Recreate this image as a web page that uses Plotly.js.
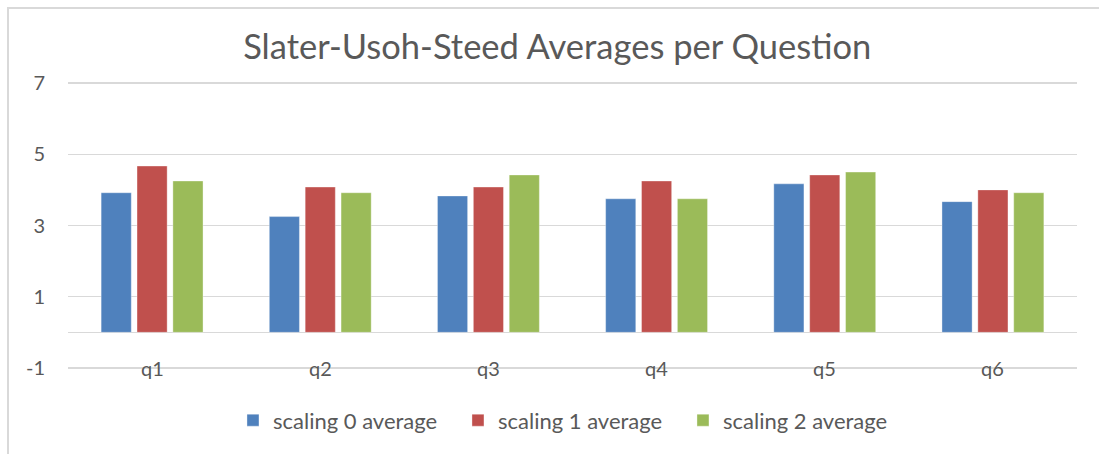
<!DOCTYPE html>
<html>
<head>
<meta charset="utf-8">
<script src="https://cdn.plot.ly/plotly-3.0.1.min.js"></script>
<style>
  html, body { margin: 0; padding: 0; background: #fff; }
  #wrap { position: relative; width: 1099px; height: 454px; overflow: hidden; }
  #frame { position: absolute; left: 7px; top: 7px; width: 1200px; height: 600px;
           border-left: 2px solid #d9d9d9; border-top: 2px solid #d9d9d9; pointer-events: none; }
  #chart { position: absolute; left: 0; top: 0; width: 1099px; height: 454px; }
</style>
</head>
<body>
<div id="wrap">
  <div id="chart"></div>
  <div id="frame"></div>
</div>
<script>
const categories = ["q1", "q2", "q3", "q4", "q5", "q6"];
const seriesNames = ["scaling 0 average", "scaling 1 average", "scaling 2 average"];
const scaling0 = [3.92, 3.25, 3.83, 3.75, 4.17, 3.67];
const scaling1 = [4.67, 4.08, 4.08, 4.25, 4.42, 4.00];
const scaling2 = [4.25, 3.92, 4.42, 3.75, 4.50, 3.92];
const yTicks = [-1, 1, 3, 5, 7];
const colors = ["#4F81BD", "#C0504D", "#9BBB59"];
const textColor = "#595959";
const font = "Lato, 'Open Sans', sans-serif";

const allSeries = [scaling0, scaling1, scaling2];
const traces = allSeries.map((vals, i) => ({
  type: "bar",
  name: seriesNames[i],
  x: categories,
  y: vals,
  marker: { color: colors[i], line: { color: "rgba(255,255,255,0.35)", width: 1 } },
  hoverinfo: "x+y+name"
}));

const annotations = categories.map(c => ({
  x: c, y: -1, xref: "x", yref: "y",
  text: c, showarrow: false,
  xanchor: "center", yanchor: "middle",
  font: { family: font, size: 20, color: textColor }
}));

const layout = {
  width: 1099, height: 454,
  margin: { l: 68, r: 22, t: 82, b: 85 },
  paper_bgcolor: "rgba(0,0,0,0)",
  plot_bgcolor: "#ffffff",
  title: {
    text: "Slater-Usoh-Steed Averages per Question",
    font: { family: font, size: 34.5, color: textColor },
    x: 0.507, xanchor: "center", y: 0.897, yanchor: "middle", yref: "container"
  },
  barmode: "group",
  bargap: 0.36,
  bargroupgap: 0.16,
  xaxis: {
    type: "category",
    range: [-0.5, 5.5],
    showticklabels: false,
    showgrid: false,
    zeroline: false,
    showline: false,
    ticks: ""
  },
  yaxis: {
    range: [-1.03, 7.03],
    tickvals: yTicks,
    ticktext: yTicks.map(String),
    showgrid: true,
    gridcolor: "#d9d9d9",
    gridwidth: 1.3,
    zeroline: true,
    zerolinecolor: "#d9d9d9",
    zerolinewidth: 1.3,
    showline: false,
    ticks: "",
    ticklabelstandoff: 22,
    tickfont: { family: font, size: 20, color: textColor }
  },
  showlegend: true,
  legend: {
    orientation: "h",
    x: 0.498, xanchor: "center",
    y: -0.179, yanchor: "middle",
    font: { family: font, size: 22, color: textColor },
    itemwidth: 30,
    entrywidth: 180,
    traceorder: "normal"
  },
  annotations: annotations
};

Plotly.newPlot("chart", traces, layout, { displayModeBar: false, staticPlot: true });
</script>
</body>
</html>
